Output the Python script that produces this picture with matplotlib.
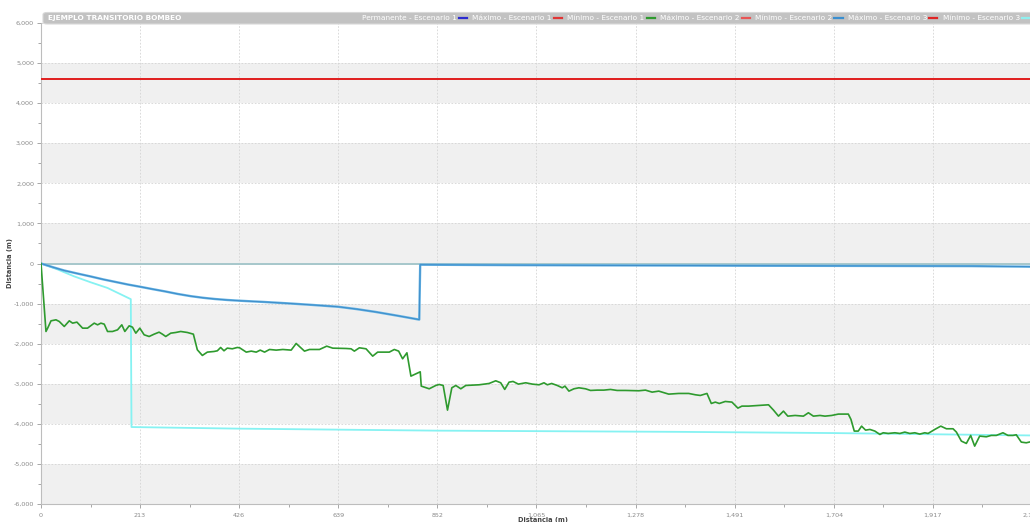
import matplotlib
matplotlib.use("Agg")
import matplotlib.pyplot as plt
from matplotlib.lines import Line2D
from matplotlib.patches import FancyBboxPatch
from matplotlib.ticker import FuncFormatter, MultipleLocator

# ---------------- data ----------------
title = "EJEMPLO TRANSITORIO BOMBEO"
legend_labels = ["Permanente - Escenario 1", "Máximo - Escenario 1", "Mínimo - Escenario 1",
                 "Máximo - Escenario 2", "Mínimo - Escenario 2", "Máximo - Escenario 3",
                 "Mínimo - Escenario 3"]
legend_colors = ["#2a2ad0", "#e03535", "#2e9a2e", "#e85555", "#3a8fd0", "#e02525", "#8ff0f0"]

x_ticks = [0, 213, 426, 639, 852, 1065, 1278, 1491, 1704, 1917, 2130]

perm_x = [0, 2130]
perm_y = [0, 0]

max_x = [0, 2130]
max_e1 = [4600, 4600]
max_e2 = [4600, 4600]
max_e3 = [4600, 4600]

min_e1_x = [0, 10.7, 14.3, 21.5, 32.2, 39.3, 50, 60.8, 67.9, 77.2, 89.4, 100, 114.4, 121.6, 128.7,
            135.9, 143, 153.7, 164.5, 173.7, 180.2, 189.5, 196.6, 203.8, 212.4, 221.7, 232.4, 243.1,
            253.8, 261, 268.1, 278.9, 289.6, 300.3, 314.6, 327.5, 336, 346.8, 357.5, 371.8, 379,
            386.1, 393.3, 400.4, 411.1, 421.9,
            426.9, 441.2, 451.9, 462.6, 471.2, 480.5, 491.2, 505.5, 519.8, 537.7, 548.4, 566.3, 577,
            598.5, 614.2, 627.1, 655.7, 666.4, 673.5, 684.3, 698.6, 712.9, 723.6, 748.6, 759.4,
            768.7, 777.2, 786.5, 795.1, 815.1, 817.3, 834.4, 848.7,
            855.9, 864.4, 873.7, 883, 891.6, 902.3, 913, 941.6, 952.4, 963.1, 977.4, 988.1, 996.7,
            1006, 1014.6, 1026, 1041.8, 1056.1, 1070.4, 1081.1, 1088.3, 1097.6, 1109.7, 1120.4,
            1126.1, 1134.7, 1145.4, 1156.1, 1170.4, 1181.1, 1195.4, 1209.7, 1224, 1238.3, 1256.2,
            1284.8,
            1299.2, 1313.5, 1327.8, 1349.2, 1370.7, 1392.1, 1406.4, 1417.1, 1431.4, 1440.7, 1449.3,
            1457.9, 1470.7, 1485, 1497.9, 1506.5, 1520.8, 1542.2, 1563.7, 1574.4, 1585.1, 1595.8,
            1605.1, 1620.8, 1638.7, 1649.4, 1660.1, 1674.4, 1685.1, 1699.4,
            1713.8, 1735.2, 1740.9, 1748, 1756.6, 1763.7, 1772.3, 1781.6, 1792.3, 1803, 1810.2,
            1820.9, 1835.2, 1845.9, 1856.6, 1867.4, 1878.1, 1888.8, 1899.5, 1906.7, 1921, 1933.9,
            1946, 1960.3, 1967.5, 1978.2, 1988.9, 1998.2, 2006.8, 2017.5, 2031.8, 2042.5, 2053.3,
            2067.6, 2078.3, 2089, 2096.2, 2106.9, 2117.6, 2130]
min_e1_y = [0, -1696, -1613, -1430, -1405, -1447, -1571, -1430, -1488, -1463, -1613, -1613, -1488,
            -1530, -1488, -1513, -1696, -1696, -1655, -1530, -1696, -1555, -1588, -1738, -1613,
            -1779, -1821, -1763, -1713, -1763, -1821, -1738, -1721, -1696, -1721, -1763, -2153,
            -2294, -2211, -2195, -2178, -2095, -2178, -2111, -2128, -2095,
            -2103, -2211, -2186, -2211, -2161, -2211, -2145, -2161, -2145, -2161, -1995, -2186,
            -2145, -2145, -2062, -2112, -2120, -2128, -2186, -2103, -2128, -2311, -2211, -2211,
            -2145, -2186, -2378, -2228, -2810, -2702, -3059, -3126, -3042,
            -3018, -3043, -3658, -3101, -3043, -3126, -3043, -3026, -3009, -2993, -2926, -2976,
            -3142, -2960, -2943, -3009, -2976, -3009, -3026, -2976, -3026, -2993, -3043, -3101,
            -3059, -3184, -3126, -3101, -3126, -3167, -3159, -3159, -3142, -3167, -3167, -3175,
            -3159, -3209, -3184, -3259, -3242, -3242, -3275, -3292, -3242, -3492, -3458, -3492,
            -3442, -3458, -3608, -3558, -3558, -3541, -3525, -3658, -3808, -3683, -3808, -3791,
            -3808, -3724, -3808, -3791, -3808, -3791,
            -3757, -3757, -3890, -4181, -4181, -4057, -4157, -4140, -4181, -4265, -4223, -4240,
            -4223, -4240, -4206, -4240, -4223, -4256, -4223, -4240, -4140, -4057, -4123, -4123,
            -4206, -4431, -4489, -4289, -4556, -4306, -4323, -4289, -4289, -4223, -4289, -4289,
            -4273, -4456, -4473, -4440]

min_e2_x = [0, 25, 50, 80, 107, 135, 160, 187, 213, 240, 266, 294, 322, 348, 373, 400, 429, 480,
            532, 585, 639, 680, 720, 765, 813, 815, 1000, 1500, 2000, 2130]
min_e2_y = [0, -90, -175, -255, -324, -400, -460, -525, -580, -640, -695, -760, -815, -855, -885,
            -910, -930, -960, -995, -1035, -1080, -1140, -1210, -1300, -1400, -30,
            -40, -55, -65, -80]

min_e3_x = [0, 36, 71, 107, 143, 193, 194.5, 426, 852, 1370, 1700, 2130]
min_e3_y = [0, -150, -320, -470, -610, -890, -4080, -4120, -4170, -4200, -4230, -4290]

# ---------------- figure ----------------
W, H = 1030, 522
fig = plt.figure(figsize=(W / 100, H / 100), dpi=100)
fig.patch.set_facecolor("white")
ax = fig.add_axes([41 / W, 1 - 504 / H, (1032 - 41) / W, (504 - 23) / H])

ax.set_xlim(0, 2130)
ax.set_ylim(-6000, 6000)

# alternating bands
for lo in range(-6000, 6000, 1000):
    if (lo // 1000) % 2 == 0:
        ax.axhspan(lo, lo + 1000, color="#f0f0f0", zorder=0, lw=0)

ax.set_xticks(x_ticks)
ax.set_xticklabels([f"{v:,}" for v in x_ticks])
ax.xaxis.set_minor_locator(MultipleLocator(106.5))
ax.yaxis.set_major_locator(MultipleLocator(1000))
ax.yaxis.set_minor_locator(MultipleLocator(500))
ax.yaxis.set_major_formatter(FuncFormatter(lambda v, p: f"{int(v):,}"))

ax.grid(True, which="major", color="#d4d4d4", linestyle=(0, (2, 2)), linewidth=0.6, zorder=1)
ax.set_axisbelow(True)

for s in ["top", "right"]:
    ax.spines[s].set_visible(False)
for s in ["left", "bottom"]:
    ax.spines[s].set_color("#bdbdbd")
    ax.spines[s].set_linewidth(0.8)

ax.tick_params(which="both", colors="#999999", labelcolor="#8a8a8a", labelsize=4.6, length=3, width=0.6)
ax.tick_params(which="minor", length=2)
ax.tick_params(axis="y", pad=2)

# lines
ax.plot(perm_x, perm_y, color="#a6c7cb", lw=1.4, zorder=3)
ax.plot(max_x, max_e1, color=legend_colors[1], lw=1.3, zorder=3)
ax.plot(max_x, max_e2, color=legend_colors[3], lw=1.3, zorder=3)
ax.plot(max_x, max_e3, color="#e01e1e", lw=1.3, zorder=3)
ax.plot(min_e3_x, min_e3_y, color="#86f2f2", lw=1.3, zorder=4)
ax.plot(min_e2_x, min_e2_y, color="#62b0e2", lw=1.7, zorder=4)
ax.plot(min_e2_x, min_e2_y, color="#2f7fc0", lw=0.6, alpha=0.8, zorder=5)
ax.plot(min_e1_x, min_e1_y, color="#2e9a2e", lw=1.2, zorder=5)

ax.set_xlabel("Distancia (m)", fontsize=4.8, color="#444444", fontweight="bold")
ax.set_ylabel("Distancia (m)", fontsize=4.8, color="#444444", fontweight="bold")
ax.xaxis.set_label_coords((543 - 41) / 991, (504 - 517) / 481)
ax.yaxis.set_label_coords((13 - 41) / 991, 0.5)

# title bar
bar = FancyBboxPatch((43 / W, 1 - 24 / H), (1040 - 43) / W, 11.5 / H,
                     boxstyle="round,pad=0,rounding_size=0.004", transform=fig.transFigure,
                     facecolor="#c2c2c2", edgecolor="#d8d8d8", lw=0.8, zorder=10)
fig.patches.append(bar)
fig.text(48 / W, 1 - 18 / H, title, fontsize=5.3, color="white", fontweight="bold",
         va="center", ha="left", zorder=11)

handles = [Line2D([], [], color=c, lw=1.6) for c in legend_colors]
leg = fig.legend(handles, legend_labels, ncol=7, loc="center right",
                 bbox_to_anchor=(1030 / W, 1 - 18 / H), frameon=False, markerfirst=False,
                 fontsize=5.3, labelcolor="white", handlelength=1.1, handletextpad=0.3,
                 columnspacing=0.7, borderaxespad=0, borderpad=0)
leg.set_zorder(12)

fig.savefig("out.png", dpi=100)
